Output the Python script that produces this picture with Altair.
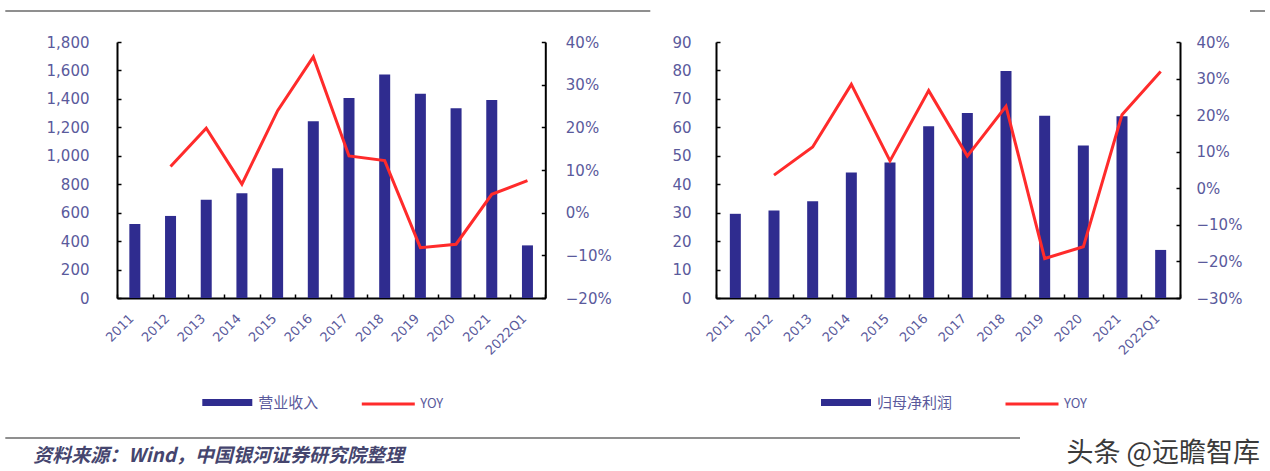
import altair as alt
import pandas as pd

# ---------------- data ----------------
years = ["2011", "2012", "2013", "2014", "2015", "2016", "2017", "2018", "2019", "2020", "2021", "2022Q1"]
revenue = [520, 577, 690, 737, 913, 1242, 1407, 1572, 1436, 1334, 1393, 370]
revenue_yoy = [None, 0.108, 0.198, 0.067, 0.239, 0.365, 0.133, 0.122, -0.082, -0.074, 0.043, 0.075]
profit = [29.6, 30.8, 34.0, 44.1, 47.6, 60.4, 65.0, 79.8, 64.1, 53.6, 63.9, 16.9]
profit_yoy = [None, 0.036, 0.113, 0.284, 0.075, 0.267, 0.088, 0.224, -0.192, -0.160, 0.201, 0.319]

rev_ticks = [0, 200, 400, 600, 800, 1000, 1200, 1400, 1600, 1800]
rev_yoy_ticks = [-0.2, -0.1, 0.0, 0.1, 0.2, 0.3, 0.4]
pro_ticks = [0, 10, 20, 30, 40, 50, 60, 70, 80, 90]
pro_yoy_ticks = [-0.3, -0.2, -0.1, 0.0, 0.1, 0.2, 0.3, 0.4]

bar_name_left = "营业收入"
bar_name_right = "归母净利润"
yoy_name = "YOY"
source_text = "资料来源：Wind，中国银河证券研究院整理"
watermark_text = "头条 @远瞻智库"

NAVY = "#2F2C8F"
RED = "#FF2B2B"
LAB = "#5a5a9c"
GRAY = "#8f8f8f"


def panel(bars, yoy, bar_name, bar_ticks, yoy_ticks, width, height,
          lpad_left, lpad_right, leg_bar_x, leg_line_x, extra=None):
    df = pd.DataFrame({"year": years, "v": bars, "yoy": yoy,
                       "bl": bar_name, "ll": yoy_name})
    xscale = alt.Scale(paddingInner=0, paddingOuter=0)
    x_axis = alt.Axis(title=None, labelAngle=315, labelAlign="right", labelBaseline="middle",
                      labelPadding=18, labelOffset=-3, labelFont="DejaVu Sans", labelFontSize=13,
                      labelColor=LAB, domainColor="black", domainWidth=2, ticks=False, grid=False)
    x_main = alt.X("year:N", sort=years, scale=xscale, axis=x_axis)
    x_none = alt.X("year:N", sort=years, scale=xscale, axis=None)
    x_ticks = alt.X("year:N", sort=years, scale=xscale,
                    axis=alt.Axis(title=None, orient="top", offset=-height, labels=False,
                                  domain=False, tickBand="extent", tickSize=4,
                                  tickColor="black", tickWidth=1.5, grid=False))
    bscale = alt.Scale(domain=[bar_ticks[0], bar_ticks[-1]], nice=False)
    yscale = alt.Scale(domain=[yoy_ticks[0], yoy_ticks[-1]], nice=False)

    bar = alt.Chart(df).mark_bar(size=11).encode(
        x=x_main,
        y=alt.Y("v:Q", scale=bscale,
                axis=alt.Axis(title=None, orient="left", values=bar_ticks, format=",.0f",
                              labelFont="DejaVu Sans", labelFontSize=15, labelColor=LAB,
                              labelPadding=lpad_left + 4, ticks=False,
                              domainColor="black", domainWidth=2, grid=False)),
        fill=alt.Fill("bl:N", scale=alt.Scale(domain=[bar_name], range=[NAVY]),
                      legend=alt.Legend(title=None, orient="none", legendX=leg_bar_x, legendY=335.5,
                                        symbolType="M-1,-0.14H1V0.14H-1Z", symbolSize=2500,
                                        symbolStrokeWidth=0, labelFont="Noto Sans CJK SC",
                                        labelFontSize=15, labelColor=LAB, labelOffset=6, padding=0)),
    )
    line = alt.Chart(df).mark_line(strokeWidth=3).encode(
        x=x_none,
        y=alt.Y("yoy:Q", scale=yscale,
                axis=alt.Axis(title=None, orient="right", values=yoy_ticks, format=".0%",
                              labelFont="DejaVu Sans", labelFontSize=15, labelColor=LAB,
                              labelPadding=lpad_right + 4, ticks=False,
                              domainColor="black", domainWidth=2, grid=False)),
        stroke=alt.Stroke("ll:N", scale=alt.Scale(domain=[yoy_name], range=[RED]),
                          legend=alt.Legend(title=None, orient="none", legendX=leg_line_x, legendY=334,
                                            symbolType="stroke", symbolSize=2809, symbolStrokeWidth=3,
                                            labelFont="Noto Sans CJK SC", labelFontSize=13,
                                            labelColor=LAB, labelOffset=4, padding=0)),
    )
    # inward tick marks (axes drawn on the opposite side, no labels)
    tick_left = alt.Chart(df).mark_point(opacity=0).encode(
        x=x_ticks,
        y=alt.Y("v:Q", scale=bscale,
                axis=alt.Axis(title=None, orient="right", offset=-width, values=bar_ticks,
                              labels=False, domain=False, tickSize=4, tickColor="black",
                              tickWidth=1.5, grid=False)),
    )
    tick_right = alt.Chart(df).mark_point(opacity=0).encode(
        x=x_none,
        y=alt.Y("yoy:Q", scale=yscale,
                axis=alt.Axis(title=None, orient="left", offset=-width, values=yoy_ticks,
                              labels=False, domain=False, tickSize=4, tickColor="black",
                              tickWidth=1.5, grid=False)),
    )
    layers = [bar, line, tick_left, tick_right]
    if extra:
        layers += extra
    return alt.layer(*layers).resolve_scale(y="independent").resolve_axis(
        x="independent", y="independent").properties(width=width, height=height)


one = pd.DataFrame({"k": [0]})
deco = [
    alt.Chart(one).mark_rule(color=GRAY, strokeWidth=2).encode(
        x=alt.value(-111.7), x2=alt.value(533.3), y=alt.value(-31)),
    alt.Chart(one).mark_rule(color=GRAY, strokeWidth=2).encode(
        x=alt.value(1133), x2=alt.value(1148), y=alt.value(-31)),
    alt.Chart(one).mark_rule(color=GRAY, strokeWidth=2).encode(
        x=alt.value(-111.7), x2=alt.value(903), y=alt.value(396)),
    alt.Chart(one).mark_text(text=source_text, align="left", baseline="middle",
                             font="Noto Sans CJK SC", fontSize=19, fontStyle="italic",
                             fontWeight="bold", color="#45456e").encode(
        x=alt.value(-83.7), y=alt.value(414)),
    alt.Chart(one).mark_text(text=watermark_text, align="right", baseline="middle",
                             font="Noto Sans CJK SC", fontSize=27, color="#3a3a3a").encode(
        x=alt.value(1143), y=alt.value(412)),
]

left = panel(revenue, revenue_yoy, bar_name_left, rev_ticks, rev_yoy_ticks, 428.3, 256,
             24, 16, 85.3, 243.3, extra=deco)
right = panel(profit, profit_yoy, bar_name_right, pro_ticks, pro_yoy_ticks, 464, 256,
              21, 12, 105, 288)

chart = alt.hconcat(left, right, spacing=170, bounds="flush").resolve_scale(
    fill="independent", stroke="independent", y="independent", x="independent"
).resolve_legend(fill="independent", stroke="independent").properties(
    padding={"left": 4, "top": 10, "right": 0, "bottom": 4}, background="white"
).configure_view(stroke=None)

chart.save("out.html", embed_options={"renderer": "svg", "actions": False})
